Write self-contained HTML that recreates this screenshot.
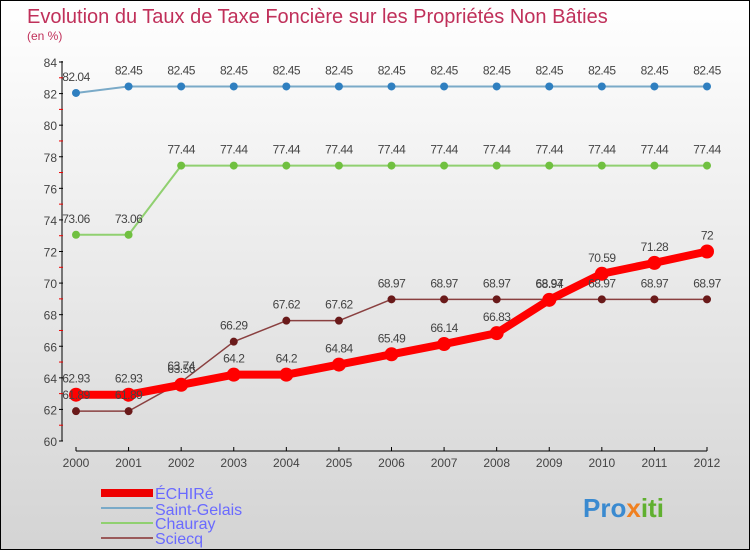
<!DOCTYPE html>
<html><head><meta charset="utf-8"><style>
body{margin:0}
#c{width:750px;height:550px;position:relative;box-sizing:border-box;border:1px solid #000;background:linear-gradient(#fff,#d4d4d4);font-family:"Liberation Sans",sans-serif;overflow:hidden}
</style></head><body>
<div id="c">
<svg id="s" width="748" height="548" xmlns="http://www.w3.org/2000/svg">
<text x="26" y="22" font-size="20" fill="#c0305a">Evolution du Taux de Taxe Foncière sur les Propriétés Non Bâties</text>
<text x="26" y="39" font-size="12" fill="#c0305a">(en %)</text>
<g id="axes"></g><g id="series"></g><g id="labels"></g>
<g>
<rect x="100" y="488" width="52" height="8" fill="#e00"/>
<text x="154" y="498" font-size="16" fill="#6a6aff">ÉCHIRé</text>
<line x1="100" y1="507" x2="152" y2="507" stroke="#7aaac8" stroke-width="2"/>
<text x="154" y="514" font-size="16" fill="#6a6aff">Saint-Gelais</text>
<line x1="100" y1="522" x2="152" y2="522" stroke="#90d070" stroke-width="2"/>
<text x="154" y="528" font-size="16" fill="#6a6aff">Chauray</text>
<line x1="100" y1="537" x2="152" y2="537" stroke="#9a5a5a" stroke-width="2"/>
<text x="154" y="543" font-size="16" fill="#6a6aff">Sciecq</text>
</g>
<text x="582" y="516" font-size="26" font-weight="bold" fill="#3a8ad0">Pro<tspan fill="#f08020">x</tspan><tspan fill="#60b030">iti</tspan></text>
</svg>
</div>
<script>
const years=[2000,2001,2002,2003,2004,2005,2006,2007,2008,2009,2010,2011,2012];
const yTicks=[60,62,64,66,68,70,72,74,76,78,80,82,84];
const echire=[62.93,62.93,63.56,64.2,64.2,64.84,65.49,66.14,66.83,68.94,70.59,71.28,72];
const saintGelais=[82.04,82.45,82.45,82.45,82.45,82.45,82.45,82.45,82.45,82.45,82.45,82.45,82.45];
const chauray=[73.06,73.06,77.44,77.44,77.44,77.44,77.44,77.44,77.44,77.44,77.44,77.44,77.44];
const sciecq=[61.89,61.89,63.74,66.29,67.62,67.62,68.97,68.97,68.97,68.97,68.97,68.97,68.97];
const NS="http://www.w3.org/2000/svg";
const X=i=>75+i*(706-75)/(years.length-1);
const Y=v=>440-(v-60)*(440-61)/24;
function mk(t,a,p){const e=document.createElementNS(NS,t);for(const k in a)e.setAttribute(k,a[k]);p.appendChild(e);return e;}
const ax=document.getElementById('axes');
const ya=mk('line',{x1:61,y1:60,x2:61,y2:440,stroke:'#000'},ax);


yTicks.forEach(v=>{
 mk('line',{x1:58,y1:Y(v),x2:62,y2:Y(v),stroke:'#000'},ax);
 if(v<84)mk('line',{x1:58,y1:Y(v+1),x2:62,y2:Y(v+1),stroke:'#e00'},ax);
 const t=mk('text',{x:56,y:Y(v)+5,'font-size':12,fill:'#444','text-anchor':'end'},ax);t.textContent=v;
 
 
});
const xa=mk('line',{x1:75,y1:450,x2:706,y2:450,stroke:'#000'},ax);


years.forEach((y,i)=>{
 mk('line',{x1:X(i),y1:446,x2:X(i),y2:450,stroke:'#000'},ax);
 const t=mk('text',{x:X(i),y:466,'font-size':12,fill:'#444','text-anchor':'middle'},ax);t.textContent=y;
 
 
});
const sg=document.getElementById('series');
const lg=document.getElementById('labels');
function series(name,data,col,dot,w,r){
 const g=mk('g',{},sg);
 
 
 const p=mk('polyline',{points:data.map((v,i)=>X(i)+','+Y(v)).join(' '),fill:'none',stroke:col,'stroke-width':w,'stroke-linejoin':'round'},g);
 
 
 data.forEach((v,i)=>{
  const c=mk('circle',{cx:X(i),cy:Y(v),r:r,fill:dot},g);
  
  
  const t=mk('text',{x:X(i),y:Y(v)-12,'font-size':12,fill:'#444','text-anchor':'middle','letter-spacing':'-0.5'},lg);t.textContent=v;
  
  
 });
}
series('saint-gelais',saintGelais,'#7aaac8','#2f7fc0',2,4);
series('chauray',chauray,'#90d070','#70c040',2,4);
series('sciecq',sciecq,'#8a4040','#6a1a1a',1.5,4);
series('echire',echire,'#f00','#f00',8,7);
</script>
</body></html>
